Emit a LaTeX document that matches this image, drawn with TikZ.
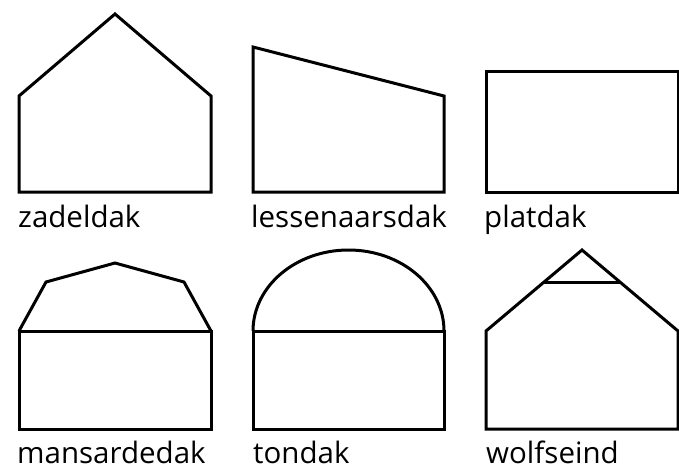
\documentclass[tikz,border=0pt]{standalone}
\usepackage{fontspec}
\setmainfont{Open Sans}
\begin{document}
\begin{tikzpicture}[x=1pt,y=-1pt,
  shape line/.style={draw=black,line width=3pt,line join=miter},
  lbl/.style={anchor=base west,inner sep=0pt,font=\fontsize{29.5}{32}\selectfont}]
\useasboundingbox (0,0) rectangle (679,473);
% zadeldak
\draw[shape line] (19,96) -- (115,14) -- (211,96) -- (211,192) -- (19,192) -- cycle;
\node[lbl] (l1) at (18,227) {zadeldak};
% lessenaarsdak
\draw[shape line] (253,47) -- (444,96) -- (444,192) -- (253,192) -- cycle;
\node[lbl] (l2) at (251,227) {lessenaarsdak};
% platdak
\draw[shape line] (486,72) rectangle (678,192);
\node[lbl] (l3) at (484,227) {platdak};
% mansardedak
\draw[shape line] (19,331) rectangle (211,429);
\draw[shape line] (19,331) -- (46,282) -- (115,263) -- (184,282) -- (211,331);
\node[lbl] (l4) at (17,463) {mansardedak};
% tondak
\draw[shape line] (253,331) rectangle (444,429);
\draw[shape line] (253,331) arc[start angle=180,end angle=360,x radius=95.5,y radius=81];
\node[lbl] (l5) at (253,463) {tondak};
% wolfseind
\draw[shape line] (486,331) -- (582,250) -- (678,331) -- (678,429) -- (486,429) -- cycle;
\draw[shape line] (543,282) -- (620,282);
\node[lbl] (l6) at (486,463) {wolfseind};
\end{tikzpicture}
\end{document}
